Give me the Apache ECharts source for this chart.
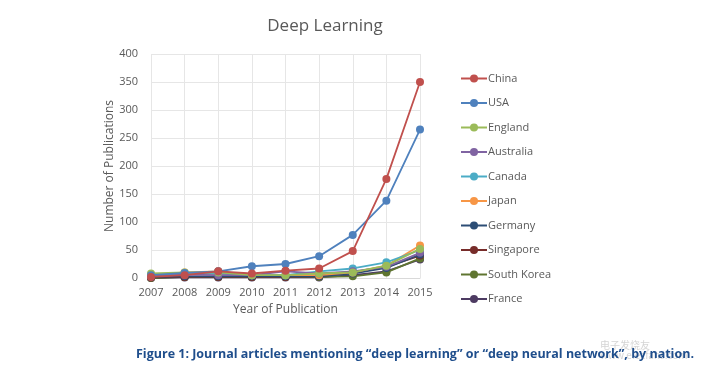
<!DOCTYPE html>
<html><head><meta charset="utf-8">
<script src="https://cdn.jsdelivr.net/npm/echarts@6/dist/echarts.min.js"></script>
<style>html,body{margin:0;padding:0;background:#fff}#c{width:713px;height:372px}</style>
</head><body><div id="c"></div>
<script>
const years = ['2007','2008','2009','2010','2011','2012','2013','2014','2015'];
const china      = [2, 5, 12, 8, 13, 17, 48, 177, 350];
const usa        = [5, 9, 12, 21, 25, 39, 77, 138, 265];
const england    = [8, 10, 10, 5, 5, 8, 10, 22, 52];
const australia  = [3, 6, 5, 5, 12, 8, 12, 20, 45];
const canada     = [5, 8, 8, 5, 5, 12, 17, 28, 50];
const japan      = [5, 10, 12, 5, 5, 5, 10, 22, 58];
const germany    = [2, 3, 3, 3, 3, 3, 8, 18, 42];
const singapore  = [1, 2, 2, 2, 2, 3, 10, 20, 40];
const southKorea = [0, 2, 2, 2, 2, 2, 3, 10, 35];
const france     = [0, 1, 1, 1, 1, 1, 5, 12, 33];
const seriesNames = ['China','USA','England','Australia','Canada','Japan','Germany','Singapore','South Korea','France'];
const seriesData = [china, usa, england, australia, canada, japan, germany, singapore, southKorea, france];
const colors = ['#c0504d','#4f81bd','#9bbb59','#8064a2','#4bacc6','#f79646','#2c4d75','#772c2a','#5f7530','#4d3b62'];

const font = 'Open Sans, Liberation Sans, sans-serif';
const chart = echarts.init(document.getElementById('c'));
chart.setOption({
  animation: false,
  color: colors,
  title: [{
    text: 'Deep Learning', left: 320, top: 13, textAlign: 'center',
    textStyle: {fontFamily: font, fontSize: 17, fontWeight: 'normal', color: '#595959'}
  },{
    text: 'Figure 1: Journal articles mentioning \u201cdeep learning\u201d or \u201cdeep neural network\u201d, by nation.',
    left: 131, top: 343,
    textStyle: {fontFamily: font, fontSize: 12.5, fontWeight: 'bold', color: '#1f4e8c'}
  }],
  grid: {left: 151, right: 293, top: 54, bottom: 94},
  legend: {
    orient: 'vertical', left: 455, top: 68, itemWidth: 26, itemHeight: 10, itemGap: 13.5,
    textStyle: {fontFamily: font, fontSize: 11, color: '#595959', padding: [0,0,0,-4]},
    data: seriesNames
  },
  xAxis: {
    type: 'category', data: years, boundaryGap: false,
    name: 'Year of Publication', nameLocation: 'middle', nameGap: 26,
    nameTextStyle: {fontFamily: font, fontSize: 12, color: '#595959'},
    axisLine: {lineStyle: {color: '#d9d9d9'}},
    axisTick: {show: false},
    axisLabel: {fontFamily: font, fontSize: 11, color: '#595959', margin: 9},
    splitLine: {show: true, lineStyle: {color: '#e6e6e6'}}
  },
  yAxis: {
    type: 'value', min: 0, max: 400, interval: 50,
    name: 'Number of Publications', nameLocation: 'middle', nameGap: 30,
    nameTextStyle: {fontFamily: font, fontSize: 12, color: '#595959'},
    axisLine: {show: false}, axisTick: {show: false},
    axisLabel: {fontFamily: font, fontSize: 11, color: '#595959', margin: 13},
    splitLine: {lineStyle: {color: '#e6e6e6'}}
  },
  graphic: [{
    type: 'text', left: 600, top: 340,
    style: {text: '电子发烧友\nwww.elecfans.com', fill: 'rgba(170,170,170,0.5)', font: '10px Noto Sans CJK SC'}
  }],
  series: seriesNames.map((n, i) => ({
    name: n, type: 'line', data: seriesData[i], symbol: 'circle', symbolSize: 8,
    lineStyle: {width: 1.8}, z: 20 - i
  }))
});
</script></body></html>
